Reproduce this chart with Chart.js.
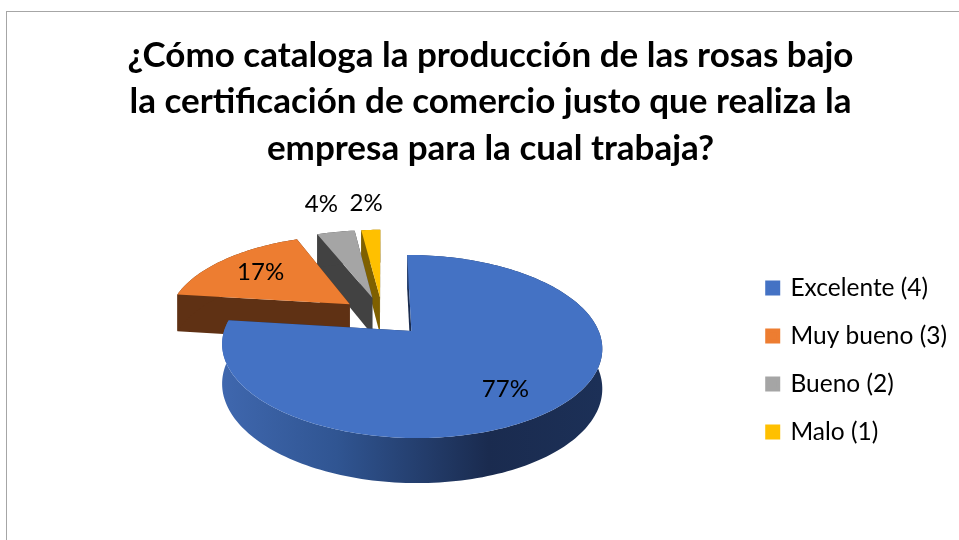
<!DOCTYPE html>
<html>
<head>
<meta charset="utf-8">
<style>
  html, body { margin: 0; padding: 0; background: #fff; overflow: hidden; }
  #frame { position: absolute; left: 6px; top: 11px; width: 953px; height: 529px; border-left: 1.5px solid #a6a6a6; border-top: 1.5px solid #a6a6a6; box-sizing: border-box; }
  #chart { position: absolute; left: 0; top: 0; }
</style>
<script src="https://cdn.jsdelivr.net/npm/chart.js@4"></script>
</head>
<body>
<div id="frame"></div>
<canvas id="chart" width="959" height="540"></canvas>
<script>
const titleLines = [
    '¿Cómo cataloga la producción de las rosas bajo',
    'la certificación de comercio justo que realiza la',
    'empresa para la cual trabaja?'
];
const categories = ['Excelente (4)', 'Muy bueno (3)', 'Bueno (2)', 'Malo (1)'];
const percentages = [77, 17, 4, 2];
const sliceColors = ['#4472c4', '#ed7d31', '#a5a5a5', '#ffc000'];
const sideColors = ['#1a2c50', '#5f3114', '#424242', '#7f6000'];

// Projection of the flat pie onto the tilted 3D look
const view = { cx: 382.5, cy: 316, rx: 182, ry: 84, tilt: 0.163, depth: 38, explode: 0.233 };

function project(u, v) {
    const s = 1 / (1 - view.tilt * v);
    return { x: view.cx + view.rx * u * s, y: view.cy + view.ry * v * s, drop: view.depth * Math.pow(s, 0.8) };
}

function slicePoints(arc) {
    const mid = (arc.startAngle + arc.endAngle) / 2;
    const u0 = view.explode * Math.cos(mid);
    const v0 = view.explode * Math.sin(mid);
    const steps = Math.max(8, Math.round((arc.endAngle - arc.startAngle) * 40));
    const rim = [];
    for (let i = 0; i <= steps; i++) {
        const a = arc.startAngle + (arc.endAngle - arc.startAngle) * i / steps;
        rim.push(project(u0 + Math.cos(a), v0 + Math.sin(a)));
    }
    return { hub: project(u0, v0), rim, u0, v0, mid };
}

function fillPath(ctx, pts, fill) {
    ctx.beginPath();
    pts.forEach((p, i) => i ? ctx.lineTo(p.x, p.y) : ctx.moveTo(p.x, p.y));
    ctx.closePath();
    ctx.fillStyle = fill;
    ctx.fill();
}

const lowered = p => ({ x: p.x, y: p.y + p.drop });

const pie3d = {
    id: 'pie3d',
    afterLayout(chart) {
        // the legend sits lower than Chart.js would centre it
        const { legendShiftX, legendShiftY } = chart.options.plugins.pie3d;
        chart.legend.left += legendShiftX;
        chart.legend.right += legendShiftX;
        chart.legend.top += legendShiftY;
        chart.legend.bottom += legendShiftY;
    },
    beforeDatasetDraw(chart, args) {
        const ctx = chart.ctx;
        const arcs = chart.getDatasetMeta(args.index).data;
        const opts = chart.options.plugins.pie3d;

        const wallFill = ctx.createLinearGradient(223, 0, 602, 0);
        wallFill.addColorStop(0, '#3f67ae');
        wallFill.addColorStop(0.3, '#305592');
        wallFill.addColorStop(0.7, '#1a2b4f');
        wallFill.addColorStop(1, '#1c3057');

        // back slices first, the big one last so that it covers their feet
        for (let i = arcs.length - 1; i >= 0; i--) {
            const { hub, rim } = slicePoints(arcs[i]);
            const first = rim[0];
            const last = rim[rim.length - 1];
            fillPath(ctx, [hub, last, lowered(last), lowered(hub)], sideColors[i]);
            fillPath(ctx, [hub, first, lowered(first), lowered(hub)], sideColors[i]);
            fillPath(ctx, rim.concat(rim.map(lowered).reverse()), i === 0 ? wallFill : sideColors[i]);
            fillPath(ctx, [hub].concat(rim), sliceColors[i]);
        }

        ctx.fillStyle = '#000';
        ctx.font = opts.labelFont;
        ctx.textAlign = 'center';
        ctx.textBaseline = 'middle';
        arcs.forEach((arc, i) => {
            const { u0, v0, mid } = slicePoints(arc);
            const r = opts.labelRadius[i];
            const p = project(u0 + r * Math.cos(mid), v0 + r * Math.sin(mid));
            ctx.fillText(percentages[i] + '%', p.x + opts.labelShift[i][0], p.y + opts.labelShift[i][1]);
        });
        return false;
    }
};

new Chart(document.getElementById('chart'), {
    type: 'pie',
    data: {
        labels: categories,
        datasets: [{ data: percentages, backgroundColor: sliceColors, borderWidth: 0 }]
    },
    plugins: [pie3d],
    options: {
        responsive: false,
        animation: false,
        layout: { padding: { left: 22, right: 0 } },
        plugins: {
            tooltip: { enabled: false },
            title: {
                display: true,
                text: titleLines,
                color: '#000',
                padding: { top: 32, bottom: 0 },
                font: { family: 'Lato', weight: 'bold', size: 35, lineHeight: 1.329 }
            },
            legend: {
                position: 'right',
                labels: {
                    color: '#000',
                    boxWidth: 11,
                    boxHeight: 11,
                    padding: 23.5,
                    font: { family: 'Lato', size: 24.5 },
                    // a thick border of the same colour keeps the gap to the text narrow
                    generateLabels: chart => Chart.overrides.pie.plugins.legend.labels.generateLabels(chart).map(item => ({
                        ...item,
                        lineWidth: 4,
                        strokeStyle: item.fillStyle
                    }))
                }
            },
            pie3d: {
                labelFont: '24px Lato',
                labelRadius: [0.72, 0.685, 1.52, 1.49],
                labelShift: [[-7, 5], [-1, 0], [1, 0], [-1, 0]],
                legendShiftX: -2,
                legendShiftY: 90
            }
        }
    }
});
</script>
</body>
</html>
